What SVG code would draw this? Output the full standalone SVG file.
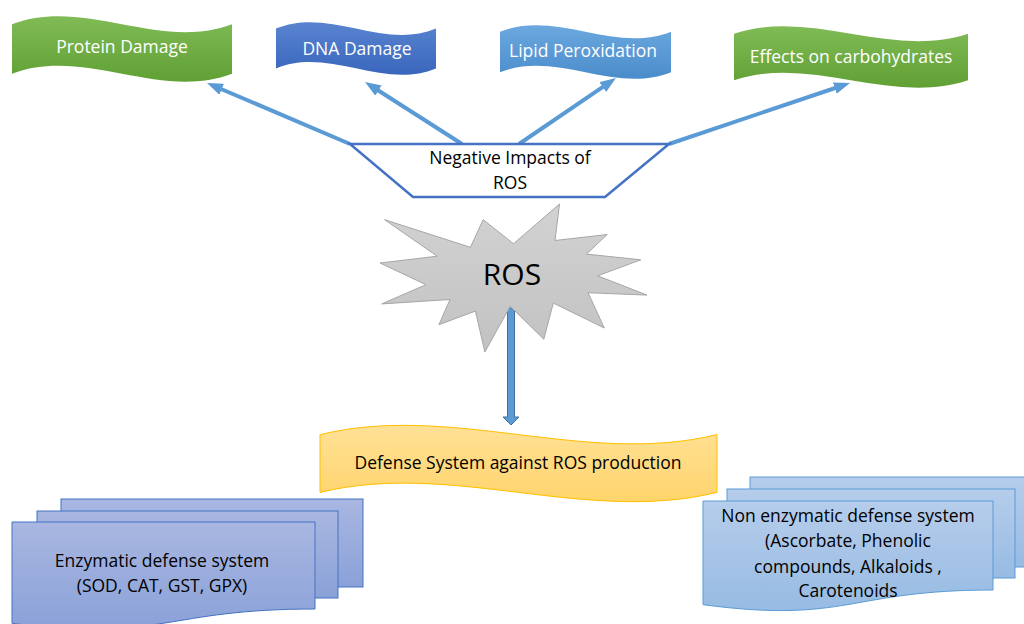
<svg xmlns="http://www.w3.org/2000/svg" width="1024" height="624" viewBox="0 0 1024 624">
<defs>
<linearGradient id="gGreen" x1="0" y1="0" x2="0" y2="1"><stop offset="0" stop-color="#80bb56"/><stop offset="1" stop-color="#60a034"/></linearGradient>
<linearGradient id="gDna" x1="0" y1="0" x2="0" y2="1"><stop offset="0" stop-color="#5a84d1"/><stop offset="1" stop-color="#3966bc"/></linearGradient>
<linearGradient id="gLipid" x1="0" y1="0" x2="0" y2="1"><stop offset="0" stop-color="#6ca8df"/><stop offset="1" stop-color="#4a8ccb"/></linearGradient>
<linearGradient id="gYellow" x1="0" y1="0" x2="0" y2="1"><stop offset="0" stop-color="#ffe196"/><stop offset="1" stop-color="#ffd46c"/></linearGradient>
<linearGradient id="gGray" x1="0" y1="0" x2="0" y2="1"><stop offset="0" stop-color="#d2d2d2"/><stop offset="1" stop-color="#c2c2c2"/></linearGradient>
<linearGradient id="gEnz" x1="0" y1="0" x2="0" y2="1"><stop offset="0" stop-color="#a9b7e1"/><stop offset="1" stop-color="#8aa1d8"/></linearGradient>
<linearGradient id="gNon" x1="0" y1="0" x2="0" y2="1"><stop offset="0" stop-color="#b6cdeb"/><stop offset="1" stop-color="#97bbe3"/></linearGradient>
<marker id="ah" viewBox="0 0 16 12" refX="2" refY="6" markerWidth="16" markerHeight="12" markerUnits="userSpaceOnUse" orient="auto"><path d="M0,0 L16,6 L0,12 z" fill="#5b9bd5"/></marker>
<style>
.lbl{font-family:"Open Sans","Liberation Sans",sans-serif;font-size:17.5px;text-anchor:middle}
.w{fill:#ffffff}
.k{fill:#000000}
.conn{stroke:#5b9bd5;stroke-width:4;fill:none;marker-end:url(#ah)}
.enz{fill:url(#gEnz);stroke:#4472c4;stroke-width:1}
.non{fill:url(#gNon);stroke:#5b9bd5;stroke-width:1}
</style>
</defs>
<rect width="1024" height="624" fill="#ffffff"/>

<g id="connectors">
<line class="conn" x1="350" y1="144" x2="219.9" y2="88.5"/>
<line class="conn" x1="462" y1="144" x2="376.8" y2="89.5"/>
<line class="conn" x1="519" y1="144" x2="604.4" y2="85.9"/>
<line class="conn" x1="669" y1="144" x2="836.7" y2="87.5"/>
<path d="M507.5,308 H514.5 V417 H519 L511,425 L503,417 H507.5 Z" fill="#5b9bd5" stroke="#41719c" stroke-width="1"/>
</g>

<g id="protein">
<path d="M12,24.25 C85.3,-3.25 158.7,51.75 232,24.25 L232,73.75 C158.7,101.25 85.3,46.25 12,73.75 Z" fill="url(#gGreen)"/>
<text class="lbl w" x="122" y="53">Protein Damage</text>
</g>

<g id="dna">
<path d="M276,28.6 C329.3,6.6 382.7,50.6 436,28.6 L436,68.4 C382.7,90.4 329.3,46.4 276,68.4 Z" fill="url(#gDna)"/>
<text class="lbl w" x="357" y="55">DNA Damage</text>
</g>

<g id="lipid">
<path d="M500,31.75 C557,9.25 614,54.25 671,31.75 L671,72.25 C614,94.75 557,49.75 500,72.25 Z" fill="url(#gLipid)"/>
<text class="lbl w" x="583" y="57">Lipid Peroxidation</text>
</g>

<g id="carbs">
<path d="M734,33.75 C812,7.9 890,59.6 968,33.75 L968,80.25 C890,106.1 812,54.4 734,80.25 Z" fill="url(#gGreen)"/>
<text class="lbl w" x="851" y="63">Effects on carbohydrates</text>
</g>

<g id="negative">
<path d="M350,144 L669,144 L605,197 L413,197 Z" fill="#ffffff" stroke="#4472c4" stroke-width="2.5" stroke-linejoin="miter"/>
<text class="lbl k" x="510" y="164">Negative Impacts of</text>
<text class="lbl k" x="510" y="189">ROS</text>
</g>

<g id="ros">
<path d="M513.5,243.7 L559.5,204 L555,240.5 L607.2,234.5 L586.5,254.1 L640.8,259.8 L597.6,275.8 L647,295.1 L588.1,292.7 L604.3,328 L553.3,303.1 L543.8,339.2 L510.2,306.3 L484.9,352 L475.4,311.1 L438.9,324.7 L450,299.5 L381.7,303.9 L426,284.7 L380,263 L437.2,256.2 L384.6,219.7 L470.4,247.3 L483.2,219.7 Z" fill="url(#gGray)" stroke="#a6a6a6" stroke-width="1"/>
<text x="512" y="285" style="font-family:'Open Sans','Liberation Sans',sans-serif;font-size:30px;text-anchor:middle" fill="#000000">ROS</text>
</g>

<g id="defense">
<path d="M320,434.6 C452.3,402.5 584.7,466.7 717,434.6 L717,492.4 C584.7,524.5 452.3,460.3 320,492.4 Z" fill="url(#gYellow)" stroke="#ffc000" stroke-width="1"/>
<text class="lbl k" x="518" y="469">Defense System against ROS production</text>
</g>

<g id="enzymatic">
<rect class="enz" x="61" y="499" width="302" height="88"/>
<rect class="enz" x="37" y="511" width="301" height="87"/>
<path class="enz" d="M12,522 H315 V609 C163.5,609 163.5,642.2 12,623.3 Z"/>
<text class="lbl k" x="162" y="567">Enzymatic defense system</text>
<text class="lbl k" x="162" y="592">(SOD, CAT, GST, GPX)</text>
</g>

<g id="nonenzymatic">
<rect class="non" x="750" y="477" width="290" height="90"/>
<rect class="non" x="727" y="489" width="288" height="89"/>
<path class="non" d="M703,501 H993 V590 C848,590 848,623.9 703,604.7 Z"/>
<text class="lbl k" x="848" y="522">Non enzymatic defense system</text>
<text class="lbl k" x="848" y="547">(Ascorbate, Phenolic</text>
<text class="lbl k" x="848" y="573">compounds, Alkaloids ,</text>
<text class="lbl k" x="848" y="597">Carotenoids</text>
</g>
</svg>
